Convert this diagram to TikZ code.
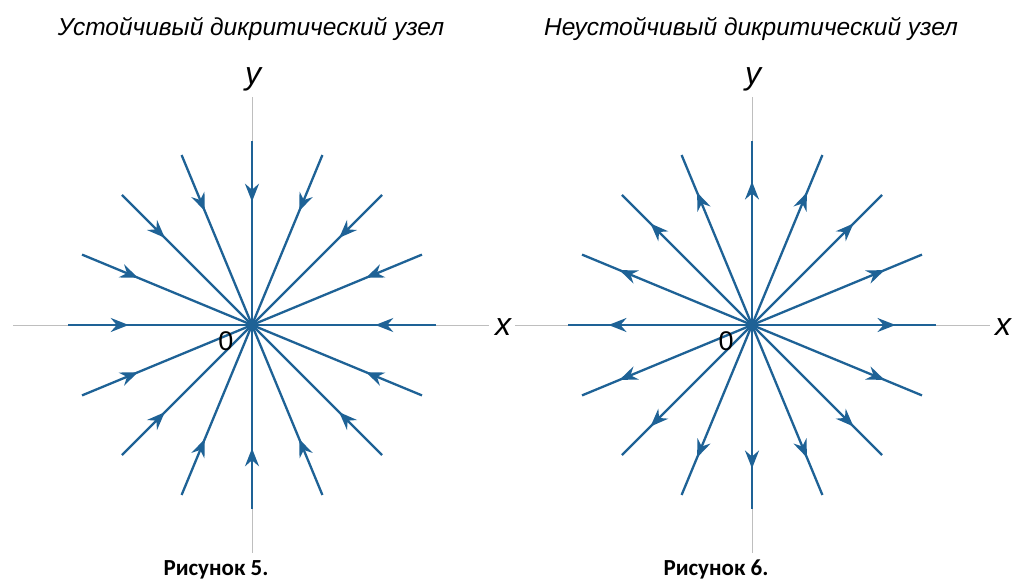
\documentclass[tikz,border=0pt]{standalone}
\usepackage{fontspec}
\setmainfont{Liberation Sans}
\newfontfamily\capfont{Carlito}
\usetikzlibrary{arrows.meta,decorations.markings,calc}
\definecolor{rayblue}{RGB}{30,98,150}
\definecolor{axgray}{RGB}{190,190,190}
\tikzset{
  axisline/.style={draw=axgray,line width=1pt},
  ray/.style={draw=rayblue,line width=2.3pt},
  inmark/.style={postaction={decorate},decoration={markings,mark=at position 0.33 with {\arrow{Stealth[length=18pt,width=14pt,inset=6pt]}}}},
  outmark/.style={postaction={decorate},decoration={markings,mark=at position 0.78 with {\arrow{Stealth[length=18pt,width=14pt,inset=6pt]}}}},
  titletext/.style={anchor=base,inner sep=0pt,font=\fontsize{24.5}{26}\selectfont\itshape},
  axlabel/.style={anchor=base,inner sep=0pt,font=\fontsize{32}{34}\selectfont\itshape},
  zerolabel/.style={anchor=base,inner sep=0pt,font=\fontsize{27}{29}\selectfont},
  captext/.style={anchor=base,inner sep=0pt,font=\fontsize{23}{25}\selectfont\capfont\bfseries},
}
\begin{document}
\begin{tikzpicture}[x=1pt,y=-1pt]
\useasboundingbox[fill=white] (0,0) rectangle (1020,581);
% centres
\coordinate (L) at (252,325);
\coordinate (R) at (752,325);
% axes
\coordinate (Lxl) at (13,325); \coordinate (Lxr) at (489,325);
\coordinate (Lyt) at (252,97); \coordinate (Lyb) at (252,553);
\coordinate (Rxl) at (515,325); \coordinate (Rxr) at (990,325);
\coordinate (Ryt) at (752,97); \coordinate (Ryb) at (752,553);
\draw[axisline] (Lxl) -- (Lxr);
\draw[axisline] (Lyt) -- (Lyb);
\draw[axisline] (Rxl) -- (Rxr);
\draw[axisline] (Ryt) -- (Ryb);
% rays
\foreach \a in {0,22.5,...,337.5}{
  \draw[ray,inmark] ($(L)+(\a:184)$) -- (L);
  \draw[ray,outmark] (R) -- ($(R)+(\a:184)$);
}
\fill[rayblue] (L) circle (4.5);
\fill[rayblue] (R) circle (4.5);
% labels
\node[titletext] (t1) at (251,35) {Устойчивый дикритический узел};
\node[titletext] (t2) at (751,35) {Неустойчивый дикритический узел};
\node[axlabel] (ly) at (253,84) {y};
\node[axlabel] (lx) at (503,335) {x};
\node[zerolabel] (l0) at (226,350) {0};
\node[axlabel] (ry) at (753,84) {y};
\node[axlabel] (rx) at (1003,335) {x};
\node[zerolabel] (r0) at (726,350) {0};
\node[captext] (c1) at (216,575) {Рисунок 5.};
\node[captext] (c2) at (716,575) {Рисунок 6.};
\end{tikzpicture}
\end{document}
